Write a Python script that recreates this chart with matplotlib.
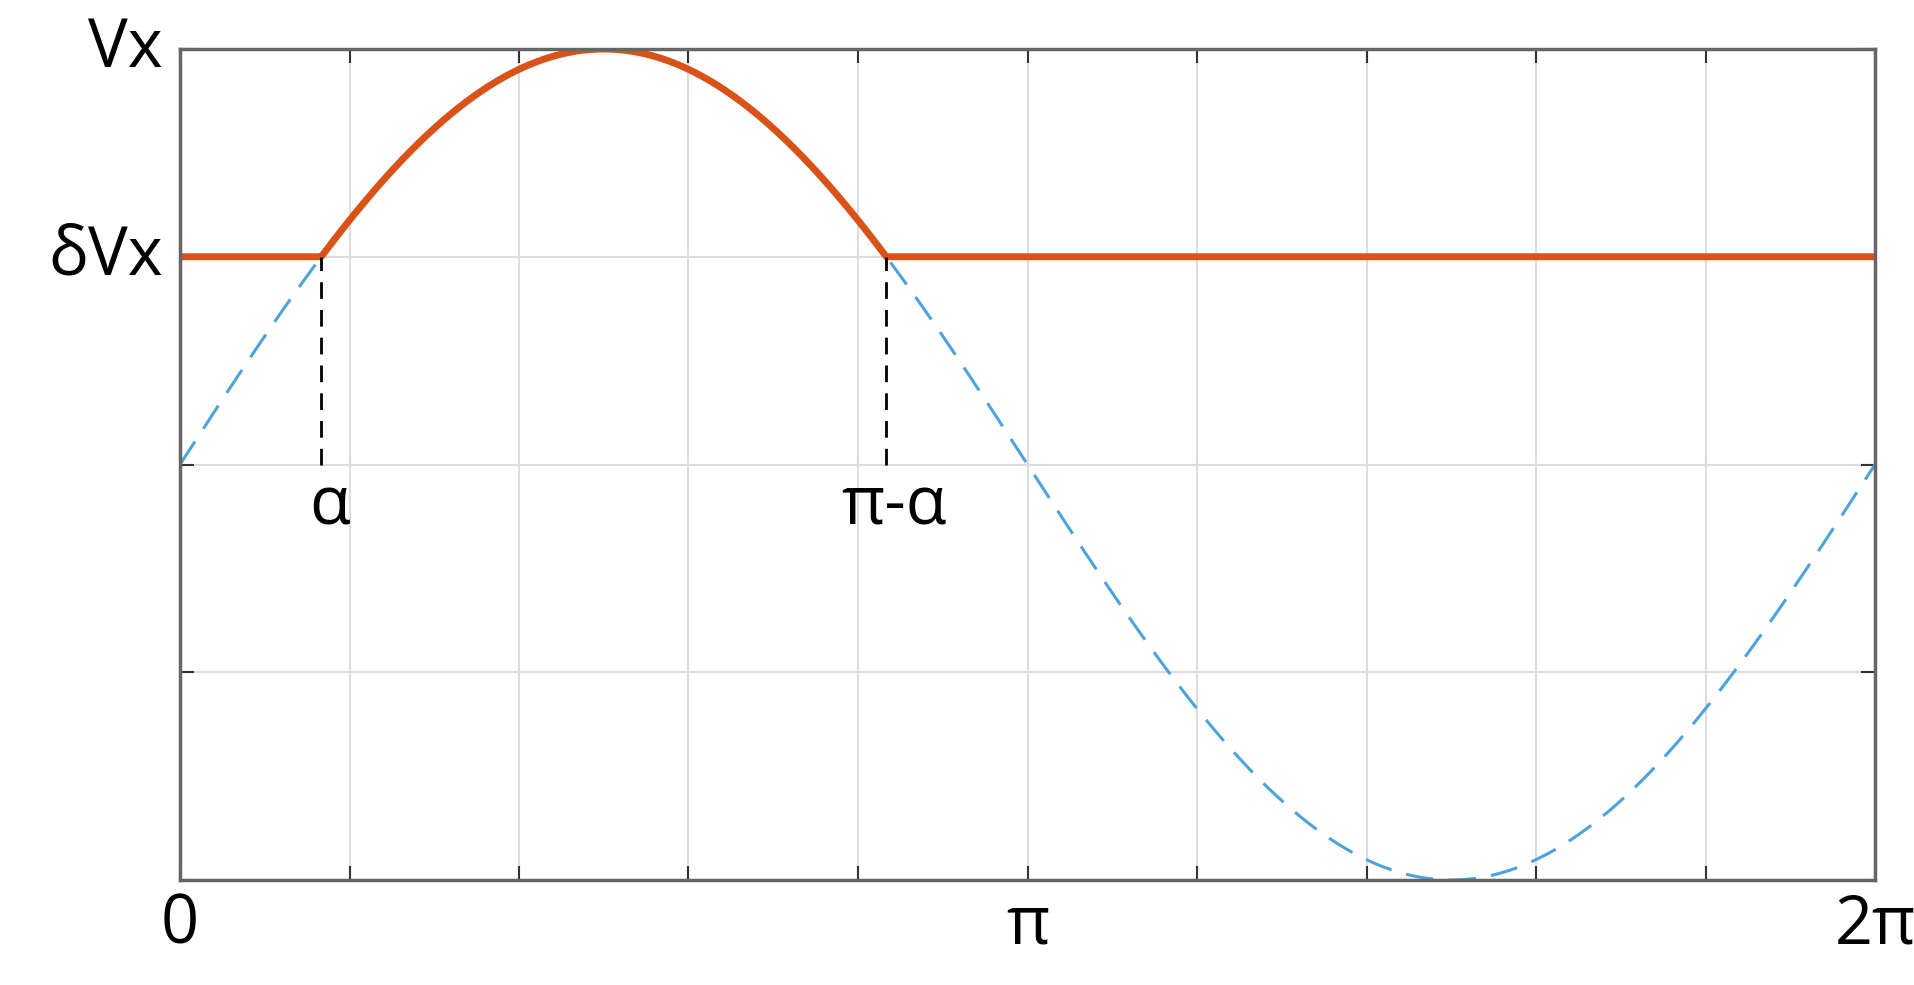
import numpy as np
import matplotlib
matplotlib.use("Agg")
import matplotlib.pyplot as plt

delta = 0.5
alpha = np.arcsin(delta)
x = np.linspace(0, 2*np.pi, 2000)
sine = np.sin(x)
clipped = np.maximum(sine, delta)

plt.rcParams['font.family'] = ['Open Sans', 'DejaVu Sans']
fig = plt.figure(figsize=(19.15, 9.85), dpi=100)
ax = fig.add_axes([180/1915, 1-880/985, (1875-180)/1915, (880-49)/985])
ax.plot(x, sine, color="#4DA3DB", lw=2.2, ls=(0, (9, 5)))
ax.plot(x, clipped, color="#D95319", lw=5)
for xv in [alpha, np.pi - alpha]:
    ax.plot([xv, xv], [0, delta], color="black", lw=2, ls=(0, (6, 4)))
ax.set_xlim(0, 2*np.pi)
ax.set_ylim(-1, 1)
ax.set_xticks(np.linspace(0, 2*np.pi, 11))
ax.set_yticks([-1, -0.5, 0, 0.5, 1])
ax.set_xticklabels([])
ax.set_yticklabels([])
ax.grid(True, color="#DDDDDD", lw=1.5)
ax.tick_params(direction="in", length=10, width=1.5, top=True, right=True, color="#333333")
for s in ax.spines.values():
    s.set_color("#666666"); s.set_linewidth(2.5)

fs = 48
ax.text(-0.01, 1, "Vx", transform=ax.get_yaxis_transform(), ha="right", va="center", fontsize=fs)
ax.text(-0.01, delta, "δVx", transform=ax.get_yaxis_transform(), ha="right", va="center", fontsize=fs)
for xv, lab in [(0, "0"), (np.pi, "π"), (2*np.pi, "2π")]:
    ax.text(xv, -1.03, lab, ha="center", va="top", fontsize=fs)
ax.text(alpha + 0.03, -0.02, "α", ha="center", va="top", fontsize=fs)
ax.text(np.pi - alpha + 0.03, -0.02, "π-α", ha="center", va="top", fontsize=fs)
fig.savefig("out.png", dpi=100)
